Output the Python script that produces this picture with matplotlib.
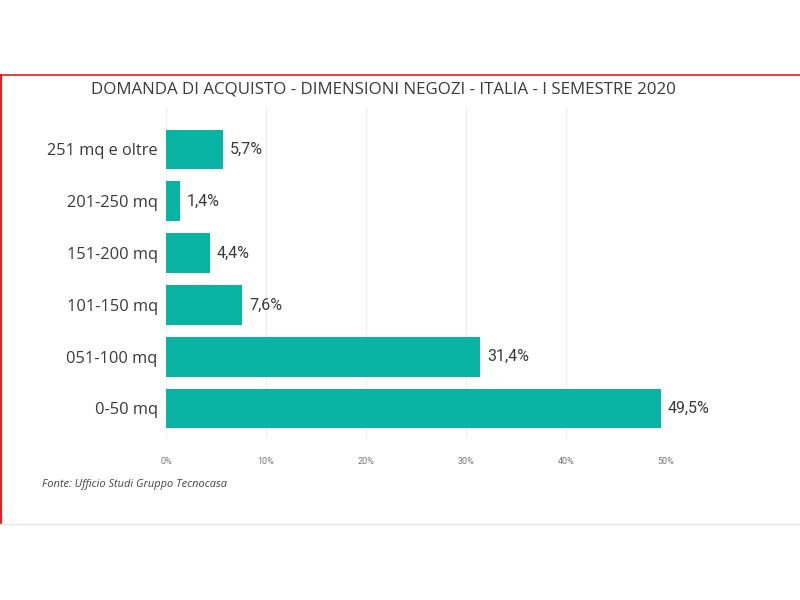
import matplotlib
matplotlib.use("Agg")
import matplotlib.pyplot as plt
from matplotlib.lines import Line2D

# dati (dal basso verso l'alto)
categorie = ["0-50 mq", "051-100 mq", "101-150 mq", "151-200 mq", "201-250 mq", "251 mq e oltre"]
valori = [49.5, 31.4, 7.6, 4.4, 1.4, 5.7]
etichette = ["49,5%", "31,4%", "7,6%", "4,4%", "1,4%", "5,7%"]
tick_x = [0, 10, 20, 30, 40, 50]
tick_lab = ["0%", "10%", "20%", "30%", "40%", "50%"]

TEAL = "#0AB4A5"
TESTO = "#3a3a3a"

fig = plt.figure(figsize=(8, 6), dpi=100)
fig.patch.set_facecolor("white")

# cornice: linea rossa in alto e a sinistra, grigia in basso
fig.add_artist(Line2D([0, 1], [1 - 75/600, 1 - 75/600], color="#e02020", lw=1.2, transform=fig.transFigure))
fig.add_artist(Line2D([0.0015, 0.0015], [1 - 75/600, 1 - 524/600], color="#e02020", lw=1.5, transform=fig.transFigure))
fig.add_artist(Line2D([0, 1], [1 - 524/600, 1 - 524/600], color="#e6e6e6", lw=1, transform=fig.transFigure))

ax = fig.add_axes([166/800, 1 - 438/600, 500/800, 331/600])
y = list(range(len(categorie)))
ax.barh(y, valori, height=0.77, color=TEAL, zorder=2)
ax.set_xlim(0, 50)
ax.set_ylim(-0.57, 5.82)

for yi, v, lab in zip(y, valori, etichette):
    ax.text(v + 0.7, yi, lab, va="center", ha="left", fontsize=11.5,
            color=TESTO, family="Roboto", fontstretch="condensed")

ax.set_yticks(y)
ax.set_yticklabels(categorie, fontsize=11.8, color=TESTO, family="Open Sans")
ax.set_xticks(tick_x)
ax.set_xticklabels(tick_lab, fontsize=6.5, color="#777777", family="Roboto")
ax.tick_params(axis="both", length=0)
ax.tick_params(axis="y", pad=6)
ax.tick_params(axis="x", pad=14)
ax.grid(axis="x", color="#eeeeee", lw=0.8, zorder=0)
for s in ax.spines.values():
    s.set_visible(False)

fig.text(383/800, 1 - 90/600, "DOMANDA DI ACQUISTO - DIMENSIONI NEGOZI - ITALIA - I SEMESTRE 2020",
         ha="center", va="center", fontsize=12.2, color=TESTO, family="Open Sans")
fig.text(42/800, 1 - 484/600, "Fonte: Ufficio Studi Gruppo Tecnocasa",
         ha="left", va="center", fontsize=7.9, style="italic", color="#444444", family="Open Sans")

fig.savefig("out.png", dpi=100, facecolor="white")
